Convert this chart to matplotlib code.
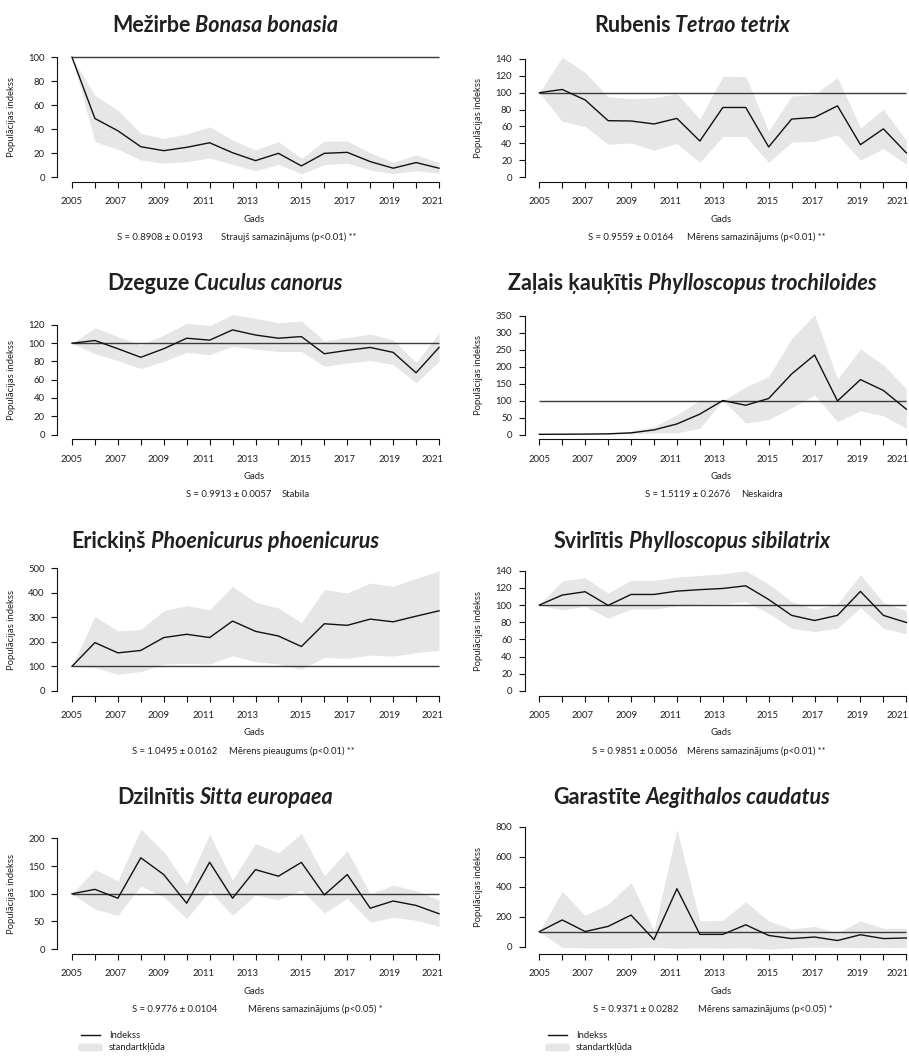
import matplotlib
matplotlib.use("Agg")
import matplotlib.pyplot as plt
from matplotlib.lines import Line2D
from matplotlib.patches import FancyBboxPatch
from matplotlib.transforms import ScaledTranslation

plt.rcParams['font.family'] = ['Lato', 'DejaVu Sans']

years = list(range(2005, 2022))
BASE = 100

# Mežirbe Bonasa bonasia
bonasa_idx = [100, 48.9, 38.7, 25.4, 22.1, 24.9, 28.7, 20.4, 13.8, 19.9, 9.4, 19.9, 20.7, 13.0, 7.5, 12.2, 7.5]
bonasa_hi = [100, 68.2, 55.8, 36.5, 32.3, 35.9, 42.0, 31.0, 22.7, 29.6, 15.7, 30.1, 30.1, 20.4, 12.4, 18.5, 12.2]
bonasa_lo = [100, 29.6, 23.2, 14.4, 11.6, 13.0, 16.0, 10.8, 5.2, 10.8, 2.8, 10.5, 11.6, 6.1, 3.0, 5.5, 3.3]

# Rubenis Tetrao tetrix
tetrao_idx = [100, 103.8, 91.4, 66.9, 66.5, 63.0, 69.6, 42.8, 82.5, 82.5, 35.8, 68.8, 70.8, 84.4, 38.5, 57.2, 28.8]
tetrao_hi = [100, 142, 124, 95, 93, 94, 98.8, 68.8, 119.4, 119, 54.5, 96, 98, 118, 58.3, 80.5, 43.6]
tetrao_lo = [100, 66, 60, 39, 40.5, 32, 39.7, 17.5, 48.2, 48.2, 17.5, 41.6, 42.4, 50.2, 20.2, 33.8, 15.6]

# Dzeguze Cuculus canorus
cuculus_idx = [100, 103, 94, 84.6, 94, 105.5, 103.4, 114.6, 109, 105.5, 107.3, 88.5, 92.2, 95.4, 90, 67.6, 95.4]
cuculus_hi = [100, 117, 107.3, 98.3, 109, 121.8, 119.3, 131.5, 127.2, 122.5, 124.3, 102.6, 106.3, 110, 103.7, 79, 111]
cuculus_lo = [100, 88.5, 81, 72.3, 80.2, 90, 87.5, 96.5, 93.6, 91, 91, 74.8, 78.4, 81, 76.6, 56.7, 80.2]

# Zaļais ķauķītis Phylloscopus trochiloides
trochil_idx = [0.5, 0.8, 1.2, 2, 4.8, 13.5, 31, 60, 100, 86, 106, 178, 234, 98.6, 161.5, 129.6, 74.5]
trochil_hi = [0.5, 1, 2, 4, 9.7, 23, 58, 100.6, 100, 140, 171, 282, 353, 163.4, 251.4, 205, 134.4]
trochil_lo = [0.3, 0.5, 0.7, 1, 2, 4.8, 4.8, 18.4, 100, 33.8, 43.5, 79.3, 116, 37.7, 69.6, 55, 18.4]

# Erickiņš Phoenicurus phoenicurus
phoenic_idx = [100, 197, 155, 165, 217.6, 231, 217.6, 285, 243, 224, 181, 274, 267.6, 293, 282, 305, 327]
phoenic_hi = [100, 304, 244.6, 251, 327, 348.6, 331, 427, 362, 339, 278, 413.5, 400, 440.5, 427, 459.5, 490.5]
phoenic_lo = [100, 94.6, 67.6, 78.4, 109.5, 112, 109.5, 143, 119, 109.5, 88, 136.5, 132.4, 146, 142, 155.4, 166]

# Svirlītis Phylloscopus sibilatrix
sibil_idx = [100, 111.7, 115.6, 99.6, 112.4, 112.4, 116.3, 118, 119.4, 122.5, 106.5, 88, 82, 88, 116, 88, 79.7]
sibil_hi = [100, 128, 132, 114, 128.8, 128.8, 132.6, 134.6, 136.5, 140, 124.5, 104, 95, 101, 135.4, 103, 93.3]
sibil_lo = [100, 94.5, 98.4, 84.8, 95.3, 95.3, 99.2, 101, 101.5, 104, 90.4, 73, 69, 73, 97.2, 73, 66.5]

# Dzilnītis Sitta europaea
sitta_idx = [100, 108, 92, 165, 134.7, 83, 157, 92, 143.6, 131.8, 156.7, 98, 134.7, 74, 87, 79, 64]
sitta_hi = [100, 143.6, 123.4, 216.6, 176, 115.7, 207.7, 124.6, 191, 173.9, 209, 132.3, 178, 99.7, 115.7, 105.6, 89]
sitta_lo = [100, 72.4, 61, 114, 95, 54.6, 105.6, 61, 98, 89, 106.8, 65.3, 92, 48.7, 57.6, 52.2, 41.5]

# Garastīte Aegithalos caudatus
aegith_idx = [100, 178.5, 101, 135.5, 211, 47, 387, 82, 82, 146, 75, 54, 64.5, 41, 79.6, 54, 58]
aegith_hi = [100, 370, 208.6, 284, 430, 107.5, 785, 172, 176, 301, 172, 118, 135.5, 92.5, 172, 122.6, 122.6]
aegith_lo = [100, -5, -8, -8, -8, -5, -10, -8, -10, -8, -17, -8, -3, -5, -7, -5, -7]

common_names = ["Mežirbe", "Rubenis", "Dzeguze", "Zaļais ķauķītis",
                "Erickiņš", "Svirlītis", "Dzilnītis", "Garastīte"]
latin_names = ["Bonasa bonasia", "Tetrao tetrix", "Cuculus canorus", "Phylloscopus trochiloides",
               "Phoenicurus phoenicurus", "Phylloscopus sibilatrix", "Sitta europaea", "Aegithalos caudatus"]
slopes = ["S = 0.8908 ± 0.0193", "S = 0.9559 ± 0.0164", "S = 0.9913 ± 0.0057", "S = 1.5119 ± 0.2676",
          "S = 1.0495 ± 0.0162", "S = 0.9851 ± 0.0056", "S = 0.9776 ± 0.0104", "S = 0.9371 ± 0.0282"]
trends = ["Straujš samazinājums (p<0.01) **", "Mērens samazinājums (p<0.01) **", "Stabila", "Neskaidra",
          "Mērens pieaugums (p<0.01) **", "Mērens samazinājums (p<0.01) **",
          "Mērens samazinājums (p<0.05) *", "Mērens samazinājums (p<0.05) *"]
yticks = [[0, 20, 40, 60, 80, 100], [0, 20, 40, 60, 80, 100, 120, 140],
          [0, 20, 40, 60, 80, 100, 120], [0, 50, 100, 150, 200, 250, 300, 350],
          [0, 100, 200, 300, 400, 500], [0, 20, 40, 60, 80, 100, 120, 140],
          [0, 50, 100, 150, 200], [0, 200, 400, 600, 800]]
series = [(bonasa_idx, bonasa_lo, bonasa_hi), (tetrao_idx, tetrao_lo, tetrao_hi),
          (cuculus_idx, cuculus_lo, cuculus_hi), (trochil_idx, trochil_lo, trochil_hi),
          (phoenic_idx, phoenic_lo, phoenic_hi), (sibil_idx, sibil_lo, sibil_hi),
          (sitta_idx, sitta_lo, sitta_hi), (aegith_idx, aegith_lo, aegith_hi)]

# layout (pixels)
W, H = 909, 1057
COL_LEFT = [57.3, 524.6]
AX_W = 396.4
AX_H = 129.6
ROW_BOTTOM = [182, 439.3, 695.6, 954]
TITLE_X = [225, 692]
TITLE_Y = [26, 284, 541.5, 797]
SLOPE_X = [117, 588, 186, 645, 131.7, 591.7, 131.7, 593]
TREND_X = [221, 687, 282, 741, 229.3, 687, 248.3, 698]
# the odd-year labels sit a little left of their ticks in the original
XLAB_SHIFT = [[0, -2.7, -4.7, -6, -8.3, -0.7, -2.3, -3.3, -6],
              [0, -2.7, -4.7, -6, -8.3, -0.7, -2.3, -3.3, -9]]

TXT = '#231f20'
BAND = '#e6e6e6'
FS = 6.8

fig = plt.figure(figsize=(W / 100, H / 100), dpi=100)
renderer = fig.canvas.get_renderer()


def fx(x):
    return x / W


def fy(y):
    return 1 - y / H


for i in range(8):
    row, col = divmod(i, 2)
    left = COL_LEFT[col]
    bottom = ROW_BOTTOM[row]
    ax = fig.add_axes([fx(left), fy(bottom), AX_W / W, AX_H / H])
    idx, lo, hi = series[i]

    ax.fill_between(years, lo, hi, color=BAND, lw=0, zorder=1)
    ax.hlines(BASE, years[0], years[-1], color='#3a3a3a', lw=1.0, zorder=2)
    ax.plot(years, idx, color='#111111', lw=1.0, zorder=3)

    ymin = min(0, min(lo))
    ymax = max(hi)
    r = ymax - ymin
    ax.set_xlim(years[0] - 0.04 * 16, years[-1] + 0.04 * 16)
    ax.set_ylim(ymin - 0.04 * r, ymax + 0.04 * r)

    for s in ['top', 'right']:
        ax.spines[s].set_visible(False)
    ax.spines['left'].set_bounds(yticks[i][0], yticks[i][-1])
    ax.spines['bottom'].set_bounds(years[0], years[-1])
    for s in ['left', 'bottom']:
        ax.spines[s].set_linewidth(0.8)
        ax.spines[s].set_color('#111111')

    ax.set_xticks(years)
    ax.set_xticklabels([str(y) if y % 2 == 1 else '' for y in years])
    ax.set_yticks(yticks[i])
    ax.tick_params(axis='x', length=4.5, width=0.8, labelsize=FS, pad=6.5, colors='#111111', labelcolor=TXT)
    ax.tick_params(axis='y', length=4.5, width=0.8, labelsize=FS, pad=4.5, colors='#111111', labelcolor=TXT)
    ax.patch.set_visible(False)

    shown = [lab for lab in ax.get_xticklabels() if lab.get_text()]
    for lab, dx in zip(shown, XLAB_SHIFT[col]):
        lab.set_transform(lab.get_transform() + ScaledTranslation(dx / 100, 0, fig.dpi_scale_trans))

    mid = (yticks[i][0] + yticks[i][-1]) / 2
    lo_lim, hi_lim = ax.get_ylim()
    ax.set_ylabel("Populācijas indekss", fontsize=FS, color=TXT)
    ax.yaxis.set_label_coords((15.7 - COL_LEFT[0]) / AX_W, (mid - lo_lim) / (hi_lim - lo_lim))

    # x label and slope line
    cx = left + AX_W / 2
    fig.text(fx(cx - 1.5), fy(bottom + 37), "Gads", fontsize=FS, color=TXT, ha='center', va='center')
    fig.text(fx(SLOPE_X[i]), fy(bottom + 55.5), slopes[i], fontsize=FS, color=TXT, ha='left', va='center')
    fig.text(fx(TREND_X[i]), fy(bottom + 55.5), trends[i], fontsize=FS, color=TXT, ha='left', va='center')

    # title: bold common name + bold italic latin name, centred as a whole
    ty = fy(TITLE_Y[row])
    t1 = fig.text(0, ty, common_names[i], fontsize=15.5, fontweight='bold', color=TXT, ha='left', va='center')
    t2 = fig.text(0, ty, latin_names[i], fontsize=15.5, fontweight='bold', style='italic', color=TXT,
                  ha='left', va='center')
    w1 = t1.get_window_extent(renderer).width
    w2 = t2.get_window_extent(renderer).width
    gap = 5
    x0 = TITLE_X[col] - (w1 + gap + w2) / 2
    t1.set_x(fx(x0))
    t2.set_x(fx(x0 + w1 + gap))

# legends
for off in [0, 467]:
    fig.add_artist(Line2D([fx(81 + off), fx(100 + off)], [fy(1035), fy(1035)], color='#111111', lw=1.0))
    fig.add_artist(FancyBboxPatch(((78 + off) / 100, (H - 1051.5) / 100), 0.25, 0.08,
                                  boxstyle="round,pad=0,rounding_size=0.04", fc=BAND, ec='none',
                                  transform=fig.dpi_scale_trans))
    fig.text(fx(109 + off), fy(1035), "Indekss", fontsize=FS, color=TXT, ha='left', va='center')
    fig.text(fx(109 + off), fy(1047), "standartkļūda", fontsize=FS, color=TXT, ha='left', va='center')

fig.savefig("out.png", dpi=100)
